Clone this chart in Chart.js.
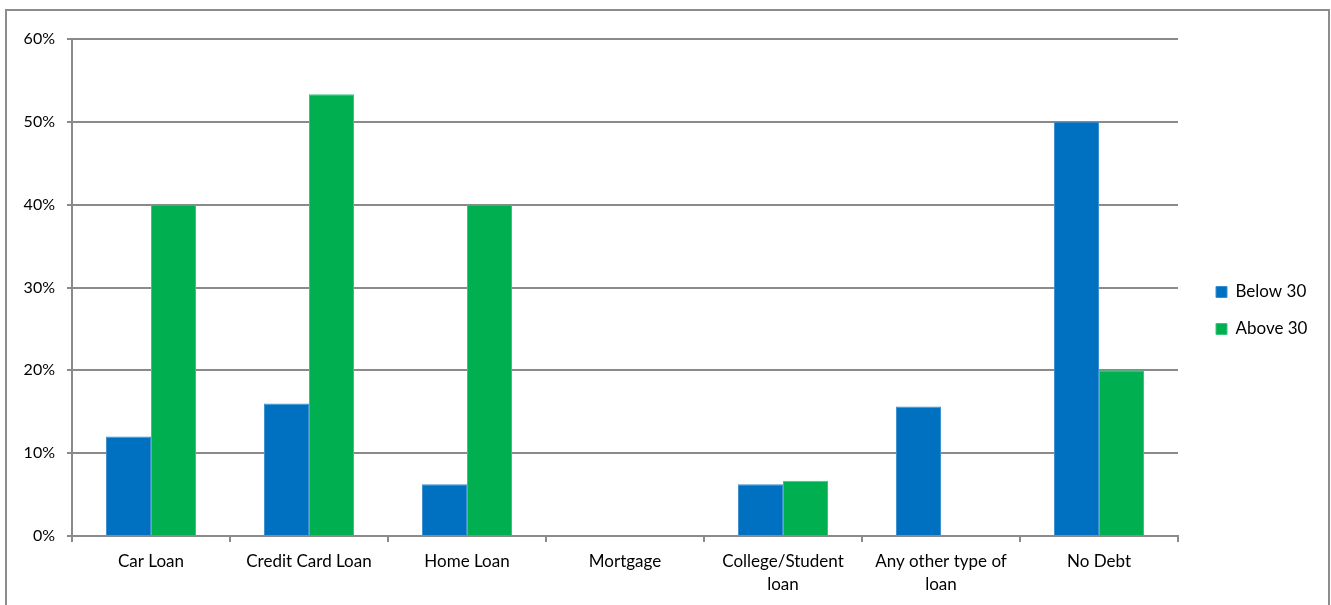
<!DOCTYPE html>
<html>
<head>
<meta charset="utf-8">
<title>Loan type by age group</title>
<script src="https://cdn.jsdelivr.net/npm/chart.js@4/dist/chart.umd.min.js"></script>
<style>
    html, body { margin: 0; padding: 0; background: #fff; overflow: hidden; }
    .wrap { position: relative; width: 1331px; height: 605px; }
    .frame {
        position: absolute; left: 5px; top: 9px; width: 1321px; height: 620px;
        border: 2px solid #8c8c8c; pointer-events: none;
    }
    canvas { position: absolute; left: 0; top: 0; }
</style>
</head>
<body>
<div class="wrap">
    <div class="frame"></div>
    <canvas id="loanChart"></canvas>
</div>
<script>
const categories = [
    'Car Loan',
    'Credit Card Loan',
    'Home Loan',
    'Mortgage',
    ['College/Student', 'loan'],
    ['Any other type of', 'loan'],
    'No Debt'
];
const below30 = [12, 16, 6.25, 0, 6.25, 15.63, 50];
const above30 = [40, 53.33, 40, 0, 6.67, 0, 20];
const yTicks = [0, 10, 20, 30, 40, 50, 60];

const gridColor = '#8a8a8a';

Chart.defaults.font.family = 'Lato, "Open Sans", sans-serif';
Chart.defaults.font.size = 17;
Chart.defaults.color = '#000';

// legend gets a fixed-width column right of the plot, items nudged right and centred a bit low
const legendPlacement = {
    id: 'legendPlacement',
    afterInit(chart) {
        const legend = chart.legend;
        const fit = legend.fit;
        legend.fit = function () {
            fit.call(this);
            this.width = 153;
        };
    },
    afterLayout(chart) {
        const legend = chart.legend;
        legend.left += 18;
        legend.top = 16;
        legend.bottom = 605;
    }
};

const ctx = document.getElementById('loanChart');

new Chart(ctx, {
    type: 'bar',
    data: {
        labels: categories,
        datasets: [
            {
                label: 'Below 30',
                data: below30,
                backgroundColor: '#0070C0',
                borderColor: '#3d8fd0',
                borderWidth: 1,
                borderSkipped: 'bottom',
                barPercentage: 1,
                categoryPercentage: 0.57
            },
            {
                label: 'Above 30',
                data: above30,
                backgroundColor: '#00B050',
                borderColor: '#3cc57c',
                borderWidth: 1,
                borderSkipped: 'bottom',
                barPercentage: 1,
                categoryPercentage: 0.57
            }
        ]
    },
    options: {
        responsive: true,
        maintainAspectRatio: false,
        animation: false,
        layout: {
            padding: { left: 10, right: 0, top: 39, bottom: 0 }
        },
        plugins: {
            legend: {
                position: 'right',
                align: 'center',
                labels: {
                    boxWidth: 11,
                    boxHeight: 11,
                    padding: 20,
                    color: '#000',
                    font: { size: 17 }
                }
            },
            tooltip: { enabled: false }
        },
        scales: {
            x: {
                afterFit(scale) { scale.height = 69; },
                grid: {
                    drawOnChartArea: false,
                    color: gridColor,
                    lineWidth: 2,
                    tickLength: 6
                },
                border: { color: gridColor, width: 2 },
                ticks: {
                    padding: 8,
                    maxRotation: 0,
                    autoSkip: false,
                    font: { size: 17, lineHeight: 1.35 }
                }
            },
            y: {
                min: yTicks[0],
                max: yTicks[yTicks.length - 1],
                afterFit(scale) { scale.width = 62; },
                afterBuildTicks(scale) {
                    scale.ticks = yTicks.map(v => ({ value: v }));
                },
                grid: {
                    color: gridColor,
                    lineWidth: 2,
                    tickLength: 5
                },
                border: { color: gridColor, width: 2 },
                ticks: {
                    padding: 12,
                    font: { size: 16 },
                    callback: v => v + '%'
                }
            }
        }
    },
    plugins: [legendPlacement]
});
</script>
</body>
</html>
